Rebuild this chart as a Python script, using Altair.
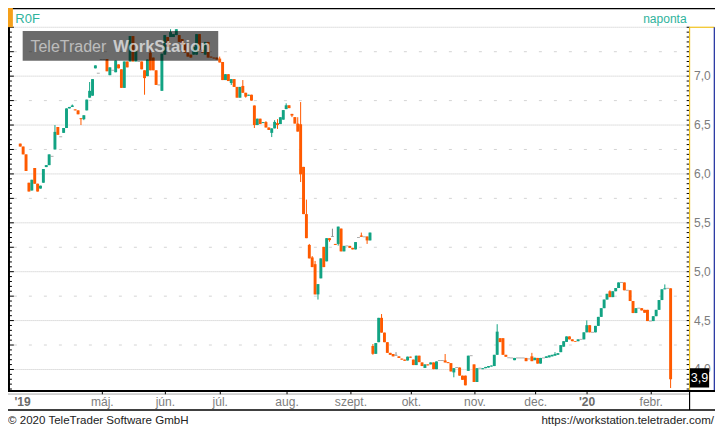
import altair as alt
import pandas as pd

# ---------------- data (daily OHLC) ----------------
opens = [
    6.31, 6.28, 6.20, 5.91, 5.83, 6.06, 5.90, 5.85, 5.91, 6.07,
    6.09, 6.18, 6.25, 6.48, 6.38, 6.42, 6.47, 6.67, 6.685, 6.66,
    6.65, 6.57, 6.56, 6.65, 6.78, 6.80, 7.08, 7.03, 7.17, 7.17,
    7.175, 7.01, 7.06, 7.04, 7.12, 7.07, 6.88, 7.15, 7.15, 7.41,
    7.15, 7.15, 7.15, 7.06, 7.00, 7.24, 7.19, 7.06, 6.91, 6.85,
    7.22, 7.40, 7.40, 7.40, 7.42, 7.42, 7.38, 7.33, 7.24, 7.22,
    7.22, 7.22, 7.43, 7.27, 7.22, 7.35, 7.20, 7.19, 7.19, 7.18,
    7.145, 6.96, 7.02, 6.93, 6.97, 6.89, 6.78, 6.90, 6.83, 6.80,
    6.81, 6.70, 6.50, 6.565, 6.52, 6.53, 6.475, 6.42, 6.466, 6.52,
    6.51, 6.555, 6.663, 6.702, 6.614, 6.581, 6.515, 6.508, 6.072, 5.589,
    5.274, 5.146, 5.077, 4.768, 4.932, 5.254, 5.106, 5.343, 5.36, 5.284,
    5.284, 5.441, 5.208, 5.264, 5.264, 5.244, 5.228, 5.35, 5.37, 5.357,
    5.36, 5.32, 4.24, 4.16, 4.279, 4.528, 4.377, 4.279, 4.17, 4.158,
    4.144, 4.134, 4.111, 4.101, 4.092, 4.131, 4.101, 4.045, 4.141, 4.072,
    4.016, 4.052, 4.052, 4.072, 4.003, 4.092, 4.092, 4.092, 4.075, 4.065,
    3.97, 4.02, 4.02, 3.937, 3.937, 3.986, 4.141, 4.052, 3.872, 4.013,
    4.003, 4.013, 4.02, 4.03, 4.035, 4.15, 4.32, 4.32, 4.15, 4.12,
    4.118, 4.095, 4.118, 4.118, 4.118, 4.118, 4.108, 4.134, 4.095, 4.118,
    4.06, 4.118, 4.118, 4.124, 4.134, 4.141, 4.15, 4.177, 4.233, 4.282,
    4.338, 4.308, 4.289, 4.289, 4.308, 4.308, 4.38, 4.453, 4.38, 4.38,
    4.446, 4.538, 4.627, 4.715, 4.80, 4.74, 4.80, 4.833, 4.89, 4.89,
    4.81, 4.81, 4.70, 4.577, 4.627, 4.627, 4.61, 4.61, 4.495, 4.495,
    4.545, 4.61, 4.71, 4.82, 4.83, 4.83,
]
highs = [
    6.31, 6.28, 6.20, 5.91, 5.94, 6.06, 5.90, 5.88, 6.05, 6.09,
    6.20, 6.18, 6.50, 6.48, 6.38, 6.47, 6.67, 6.685, 6.71, 6.66,
    6.65, 6.57, 6.60, 6.76, 6.94, 6.97, 7.11, 7.03, 7.17, 7.17,
    7.175, 7.09, 7.06, 7.16, 7.12, 7.07, 7.15, 7.15, 7.41, 7.41,
    7.26, 7.15, 7.15, 7.06, 7.17, 7.27, 7.19, 7.06, 6.91, 7.23,
    7.42, 7.40, 7.48, 7.43, 7.48, 7.42, 7.38, 7.33, 7.24, 7.22,
    7.30, 7.43, 7.43, 7.27, 7.35, 7.35, 7.20, 7.19, 7.19, 7.20,
    7.145, 7.02, 7.02, 6.97, 6.97, 6.89, 6.89, 6.96, 6.83, 6.81,
    6.81, 6.70, 6.565, 6.565, 6.53, 6.54, 6.475, 6.466, 6.55, 6.56,
    6.58, 6.653, 6.722, 6.702, 6.614, 6.581, 6.58, 6.735, 6.072, 5.737,
    5.284, 5.16, 5.11, 4.873, 5.136, 5.254, 5.343, 5.343, 5.44, 5.284,
    5.461, 5.441, 5.264, 5.264, 5.264, 5.244, 5.303, 5.35, 5.40, 5.357,
    5.36, 5.40, 4.26, 4.27, 4.528, 4.567, 4.377, 4.279, 4.17, 4.158,
    4.177, 4.134, 4.111, 4.101, 4.131, 4.131, 4.101, 4.141, 4.141, 4.072,
    4.052, 4.052, 4.072, 4.072, 4.082, 4.092, 4.092, 4.158, 4.075, 4.065,
    4.013, 4.02, 4.02, 3.937, 3.937, 4.141, 4.141, 4.052, 4.013, 4.013,
    4.013, 4.026, 4.035, 4.04, 4.15, 4.463, 4.32, 4.32, 4.15, 4.12,
    4.118, 4.118, 4.118, 4.118, 4.118, 4.118, 4.108, 4.17, 4.12, 4.118,
    4.118, 4.118, 4.134, 4.144, 4.15, 4.177, 4.167, 4.249, 4.289, 4.338,
    4.338, 4.308, 4.289, 4.308, 4.308, 4.38, 4.502, 4.453, 4.38, 4.446,
    4.538, 4.627, 4.715, 4.774, 4.81, 4.80, 4.833, 4.89, 4.89, 4.89,
    4.81, 4.81, 4.70, 4.627, 4.627, 4.627, 4.61, 4.61, 4.495, 4.545,
    4.61, 4.71, 4.82, 4.87, 4.83, 4.83,
]
lows = [
    6.28, 6.20, 6.03, 5.82, 5.83, 5.90, 5.82, 5.85, 5.91, 6.07,
    6.09, 6.18, 6.25, 6.40, 6.38, 6.42, 6.47, 6.67, 6.685, 6.65,
    6.61, 6.50, 6.55, 6.65, 6.78, 6.80, 7.08, 7.03, 7.17, 7.17,
    7.05, 7.01, 7.06, 7.04, 7.08, 6.88, 6.88, 7.09, 7.15, 7.15,
    7.15, 7.15, 7.07, 6.81, 7.00, 7.06, 7.06, 6.91, 6.91, 6.85,
    7.22, 7.30, 7.40, 7.40, 7.42, 7.35, 7.32, 7.24, 7.20, 7.19,
    7.22, 7.22, 7.27, 7.24, 7.22, 7.19, 7.19, 7.18, 7.17, 7.14,
    6.96, 6.96, 6.95, 6.91, 6.89, 6.78, 6.78, 6.83, 6.78, 6.80,
    6.75, 6.47, 6.50, 6.51, 6.52, 6.475, 6.45, 6.377, 6.466, 6.46,
    6.51, 6.555, 6.663, 6.673, 6.581, 6.515, 6.433, 5.917, 5.589, 5.343,
    5.136, 5.047, 4.768, 4.715, 4.932, 5.047, 5.106, 5.306, 5.36, 5.274,
    5.267, 5.208, 5.208, 5.264, 5.244, 5.228, 5.228, 5.35, 5.357, 5.357,
    5.284, 5.32, 4.15, 4.16, 4.279, 4.377, 4.279, 4.17, 4.15, 4.134,
    4.144, 4.118, 4.101, 4.089, 4.092, 4.121, 4.045, 4.045, 4.075, 4.035,
    4.016, 4.042, 4.052, 4.003, 4.003, 4.092, 4.092, 4.072, 4.065, 3.98,
    3.92, 4.02, 3.937, 3.894, 3.838, 3.986, 4.141, 3.872, 3.872, 4.013,
    4.003, 4.013, 4.02, 4.03, 4.035, 4.15, 4.28, 4.15, 4.13, 4.12,
    4.118, 4.095, 4.118, 4.118, 4.118, 4.085, 4.108, 4.085, 4.095, 4.06,
    4.06, 4.118, 4.118, 4.124, 4.134, 4.141, 4.15, 4.177, 4.233, 4.282,
    4.308, 4.289, 4.282, 4.289, 4.308, 4.308, 4.38, 4.38, 4.38, 4.38,
    4.446, 4.538, 4.627, 4.715, 4.74, 4.74, 4.80, 4.833, 4.89, 4.81,
    4.81, 4.70, 4.577, 4.577, 4.627, 4.604, 4.58, 4.495, 4.495, 4.495,
    4.545, 4.61, 4.71, 4.82, 4.83, 3.81,
]
closes = [
    6.28, 6.20, 6.03, 5.82, 5.94, 5.90, 5.82, 5.88, 6.05, 6.09,
    6.20, 6.18, 6.43, 6.40, 6.38, 6.47, 6.67, 6.685, 6.70, 6.65,
    6.61, 6.56, 6.60, 6.76, 6.85, 6.97, 7.11, 7.03, 7.17, 7.17,
    7.05, 7.09, 7.06, 7.16, 7.08, 6.88, 7.15, 7.09, 7.41, 7.15,
    7.26, 7.15, 7.07, 6.98, 7.17, 7.06, 7.06, 6.91, 6.91, 7.23,
    7.42, 7.30, 7.45, 7.43, 7.48, 7.35, 7.32, 7.24, 7.20, 7.19,
    7.30, 7.43, 7.27, 7.24, 7.35, 7.19, 7.19, 7.18, 7.17, 7.14,
    6.96, 7.02, 6.95, 6.97, 6.89, 6.78, 6.89, 6.83, 6.79, 6.81,
    6.75, 6.50, 6.565, 6.51, 6.53, 6.475, 6.45, 6.466, 6.532, 6.50,
    6.58, 6.653, 6.702, 6.673, 6.597, 6.515, 6.433, 5.996, 5.589, 5.343,
    5.136, 5.047, 4.768, 4.873, 5.136, 5.047, 5.343, 5.323, 5.36, 5.274,
    5.461, 5.208, 5.264, 5.264, 5.244, 5.228, 5.303, 5.35, 5.357, 5.357,
    5.32, 5.40, 4.16, 4.27, 4.528, 4.377, 4.279, 4.17, 4.15, 4.134,
    4.144, 4.118, 4.101, 4.089, 4.131, 4.121, 4.045, 4.141, 4.075, 4.035,
    4.052, 4.042, 4.072, 4.003, 4.082, 4.092, 4.092, 4.072, 4.065, 3.98,
    4.013, 4.02, 3.937, 3.894, 3.838, 4.141, 4.141, 3.872, 4.013, 4.013,
    4.013, 4.026, 4.035, 4.04, 4.15, 4.387, 4.28, 4.15, 4.13, 4.12,
    4.118, 4.118, 4.118, 4.118, 4.118, 4.085, 4.108, 4.085, 4.12, 4.06,
    4.118, 4.118, 4.134, 4.144, 4.15, 4.158, 4.167, 4.249, 4.289, 4.338,
    4.308, 4.289, 4.282, 4.308, 4.308, 4.38, 4.453, 4.38, 4.38, 4.446,
    4.538, 4.627, 4.715, 4.774, 4.74, 4.80, 4.833, 4.89, 4.89, 4.81,
    4.81, 4.70, 4.577, 4.627, 4.627, 4.604, 4.58, 4.495, 4.495, 4.545,
    4.61, 4.71, 4.82, 4.83, 4.83, 3.90,
]

# x-axis (trading-day index) labels
month_pos = [0.8, 28.4, 50.2, 69.2, 92.3, 114.4, 135.3, 157.3, 178.3, 196.1, 218.3]
month_lbl = ["'19", "máj.", "jún.", "júl.", "aug.", "szept.", "okt.", "nov.", "dec.", "'20", "febr."]
month_tick = [False, True, True, True, True, True, True, True, True, True, True]
month_bold = [True, False, False, False, False, False, False, False, False, True, False]

# y-axis labels
y_vals = [4.0, 4.5, 5.0, 5.5, 6.0, 6.5, 7.0]
y_lbls = ["4,0", "4,5", "5,0", "5,5", "6,0", "6,5", "7,0"]
grid_major = [4.0, 4.5, 5.0, 5.5, 6.0, 6.5, 7.0, 7.5]
grid_minor = [4.25, 4.75, 5.25, 5.75, 6.25, 6.75, 7.25]
last_value = "3,9"

# ---------------- geometry ----------------
SX = 707 / 723
SY = 419 / 435
PL = 2 * SX
PT = 20 * SY
W = (697 - 2) * SX
H = (397 - 20) * SY
PR = 707 - PL - W
PB = 419 - PT - H


def px(x):
    return x * SX - PL


def py(y):
    return y * SY - PT


GREEN = "#12a383"
ORANGE = "#ff5a00"
GRAY = "#8a8a8a"
TEAL = "#2fb39c"
FONT = "Liberation Sans"

xs = alt.Scale(domain=[-1.8333, 229.8333], nice=False, zero=False)
ys = alt.Scale(domain=[3.786, 7.5], nice=False, zero=False)

df = pd.DataFrame({"i": list(range(len(opens))), "o": opens, "h": highs, "l": lows, "c": closes})
df["kind"] = ["up" if c > o else ("down" if c < o else "doji") for o, c in zip(df.o, df.c)]
color = alt.Color("kind:N", scale=alt.Scale(domain=["up", "down", "doji"], range=[GREEN, ORANGE, GRAY]), legend=None)

one = pd.DataFrame({"k": [0]})


def rule(x1, y1, x2, y2, col, w=1.0):
    return alt.Chart(one).mark_rule(color=col, strokeWidth=w).encode(
        x=alt.value(px(x1)), x2=alt.value(px(x2)), y=alt.value(py(y1)), y2=alt.value(py(y2)))


def rect(x1, y1, x2, y2, col, op=1.0):
    return alt.Chart(one).mark_rect(color=col, opacity=op).encode(
        x=alt.value(px(x1)), x2=alt.value(px(x2)), y=alt.value(py(y1)), y2=alt.value(py(y2)))


def text(s, x, y, size, col, align="left", weight="normal", baseline="alphabetic", op=1.0):
    return alt.Chart(one).mark_text(text=s, align=align, baseline=baseline, fontSize=size, color=col,
                                    fontWeight=weight, font=FONT, opacity=op).encode(
        x=alt.value(px(x)), y=alt.value(py(y)))


layers = []

# grid lines
gmaj = pd.DataFrame({"v": grid_major})
gmin = pd.DataFrame({"v": grid_minor})
layers.append(alt.Chart(gmaj).mark_rule(color="#c4c4c4", strokeDash=[1, 1], strokeWidth=1).encode(
    y=alt.Y("v:Q", scale=ys, axis=None)))
layers.append(alt.Chart(gmin).mark_rule(color="#d4d4d4", strokeDash=[3, 12], strokeDashOffset=2.3, strokeWidth=1).encode(
    y=alt.Y("v:Q", scale=ys, axis=None)))

# candles
layers.append(alt.Chart(df).mark_rule(strokeWidth=1).encode(
    x=alt.X("i:Q", scale=xs, axis=None), y=alt.Y("l:Q", scale=ys, axis=None), y2="h:Q", color=color))
layers.append(alt.Chart(df).transform_filter("datum.kind != 'doji'").mark_bar(size=3 * SX).encode(
    x=alt.X("i:Q", scale=xs, axis=None), y=alt.Y("o:Q", scale=ys, axis=None), y2="c:Q", color=color))
layers.append(alt.Chart(df).transform_filter("datum.kind == 'doji'").mark_tick(
    orient="horizontal", size=3 * SX, thickness=1, color=GRAY).encode(
    x=alt.X("i:Q", scale=xs, axis=None), y=alt.Y("c:Q", scale=ys, axis=None)))

# watermark (semi-transparent box with see-through lettering)
layers.append(rect(15, 24, 215, 54.7, "#000000", 0.58))
layers.append(text("TeleTrader", 23, 46, 16.6 * SY, "#ffffff", op=0.55))
layers.append(text("WorkStation", 207, 46, 17.2 * SY, "#ffffff", align="right", weight="bold", op=0.65))

# axis ticks (left and right, every 0.05)
tick_vals = [round(3.8 + 0.05 * k, 2) for k in range(75)]
tdf = pd.DataFrame({"v": tick_vals, "major": [abs(v * 4 - round(v * 4)) < 1e-6 for v in tick_vals]})
layers.append(alt.Chart(tdf).transform_filter("datum.major").mark_rule(color="#000000", strokeWidth=1).encode(
    y=alt.Y("v:Q", scale=ys, axis=None), x=alt.value(px(0)), x2=alt.value(px(6))))
layers.append(alt.Chart(tdf).transform_filter("!datum.major").mark_rule(color="#000000", strokeWidth=1).encode(
    y=alt.Y("v:Q", scale=ys, axis=None), x=alt.value(px(0)), x2=alt.value(px(4))))
layers.append(alt.Chart(tdf).mark_rule(color="#000000", strokeWidth=1).encode(
    y=alt.Y("v:Q", scale=ys, axis=None), x=alt.value(px(694)), x2=alt.value(px(697))))

# frame lines
layers.append(rule(0, 0.6, 723, 0.6, "#000000", 1.5))
layers.append(rect(0, 0, 5, 20, "#f5a01a"))
layers.append(rule(1, 20, 1, 397, "#000000", 2))
layers.append(rule(697, 20, 697, 397, "#f2c21b", 1.2))
layers.append(rule(697, 20, 722.5, 20, "#f2c21b", 1.2))
layers.append(rule(722.3, 20, 722.3, 397, "#1a2a9c", 1.2))
layers.append(rule(0, 397.5, 723, 397.5, "#000000", 2))
layers.append(rule(0, 400.8, 697, 400.8, "#a8a8a8", 1))
layers.append(rule(0, 417.3, 723, 417.3, "#000000", 1.5))
layers.append(rule(697, 397, 697, 417.3, "#000000", 1.2))

# month ticks and labels
mdf = pd.DataFrame({"p": month_pos, "lbl": month_lbl, "tick": month_tick, "bold": month_bold})
layers.append(alt.Chart(mdf).transform_filter("datum.tick").mark_rule(color="#000000", strokeWidth=1).encode(
    x=alt.X("p:Q", scale=xs, axis=None), y=alt.value(py(397)), y2=alt.value(py(401))))
layers.append(alt.Chart(mdf).transform_filter("!datum.bold").mark_text(
    baseline="alphabetic", align="center", fontSize=12.5 * SY, color="#7d7d7d", font=FONT).encode(
    x=alt.X("p:Q", scale=xs, axis=None), y=alt.value(py(413)), text="lbl:N"))
layers.append(alt.Chart(mdf).transform_filter("datum.bold").mark_text(
    baseline="alphabetic", align="center", fontSize=12.5 * SY, color="#6a6a6a", fontWeight="bold", font=FONT).encode(
    x=alt.X("p:Q", scale=xs, axis=None), y=alt.value(py(413)), text="lbl:N"))

# y labels
ydf = pd.DataFrame({"v": y_vals, "lbl": y_lbls})
layers.append(alt.Chart(ydf).mark_text(
    baseline="middle", align="left", fontSize=12.5 * SY, color="#7d7d7d", font=FONT).encode(
    y=alt.Y("v:Q", scale=ys, axis=None), x=alt.value(px(701.5)), text="lbl:N"))

# last value box
layers.append(rect(697.3, 374, 717, 394, "#000000"))
layers.append(text(last_value, 707.2, 384, 13 * SY, "#ffffff", align="center", baseline="middle"))

# header / footer texts
layers.append(text("R0F", 7.5, 16, 13.5 * SY, TEAL))
layers.append(text("naponta", 694, 15.5, 12.5 * SY, TEAL, align="right"))
layers.append(text("© 2020 TeleTrader Software GmbH", 0, 432, 12 * SY, "#222222"))
layers.append(text("https://workstation.teletrader.com/", 722, 432, 12 * SY, "#222222", align="right"))

chart = alt.layer(*layers).properties(
    width=W, height=H,
    padding={"left": PL, "top": PT, "right": PR, "bottom": PB},
    autosize=alt.AutoSizeParams(type="none"),
    background="#ffffff",
).configure_view(stroke=None)

chart.save("out.html", embed_options={"renderer": "svg", "actions": False})
